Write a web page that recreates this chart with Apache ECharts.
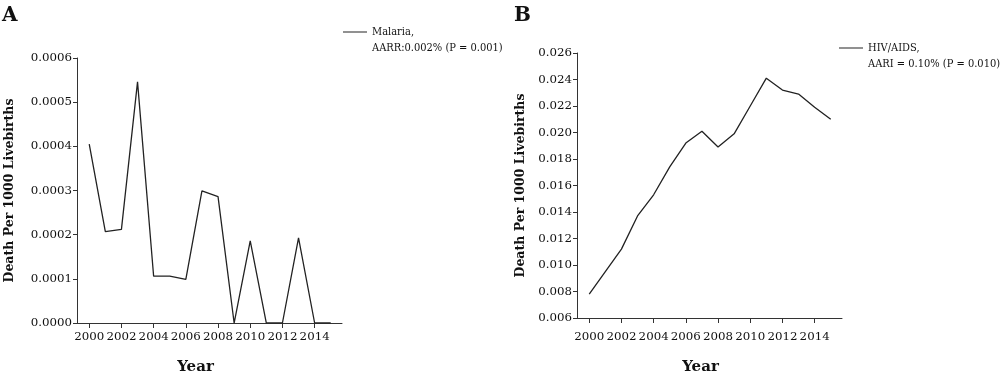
<!DOCTYPE html>
<html>
<head>
<meta charset="utf-8">
<script src="https://cdn.jsdelivr.net/npm/echarts@6/dist/echarts.min.js"></script>
<style>
html,body{margin:0;padding:0;background:#fff;}
#chart{width:1000px;height:376px;}
</style>
</head>
<body>
<div id="chart"></div>
<script>
var years = [2000,2001,2002,2003,2004,2005,2006,2007,2008,2009,2010,2011,2012,2013,2014,2015];
var yearTicks = [2000,2002,2004,2006,2008,2010,2012,2014];
var malaria = [0.000405,0.000207,0.000212,0.000546,0.000106,0.000106,0.000099,0.000299,0.000286,0,0.000186,0,0,0.000193,0,0];
var hiv = [0.0078,0.0095,0.0112,0.0137,0.0153,0.0174,0.0192,0.0201,0.0189,0.0199,0.0220,0.0241,0.0232,0.0229,0.0219,0.0210];

var FONT = 'DejaVu Serif';
var LEG_FONT = '"DejaVu Serif Condensed", "Liberation Serif", serif';
var INK = '#111';

function pairs(vals){
	var out = [];
	for(var i=0;i<years.length;i++){
		out.push([years[i], vals[i]]);
	}
	return out;
}

function xAxisOf(idx, gap, labelMargin, shift){
	return {
		gridIndex: idx,
		type: 'value',
		min: 1999.24,
		max: 2015.7,
		name: 'Year',
		nameLocation: 'middle',
		nameGap: gap,
		nameTextStyle: {fontFamily: FONT, fontWeight: 'bold', fontSize: 15, color: INK, padding: [0, shift, 0, 0]},
		axisLine: {lineStyle: {color: '#333', width: 1}},
		axisTick: {show: true, length: 5, customValues: yearTicks, lineStyle: {color: '#333'}},
		axisLabel: {customValues: yearTicks, margin: labelMargin, fontFamily: FONT, fontSize: 11.8, color: INK,
			formatter: function(v){ return String(v); }},
		splitLine: {show: false}
	};
}

function yAxisOf(idx, min, max, step, digits, gap){
	return {
		gridIndex: idx,
		type: 'value',
		min: min,
		max: max,
		interval: step,
		name: 'Death Per 1000 Livebirths',
		nameLocation: 'middle',
		nameGap: gap,
		nameTextStyle: {fontFamily: FONT, fontWeight: 'bold', fontSize: 12.5, color: INK},
		axisLine: {show: true, lineStyle: {color: '#333', width: 1}},
		axisTick: {show: true, length: 4, lineStyle: {color: '#333'}},
		axisLabel: {margin: 5, fontFamily: FONT, fontSize: 11.8, color: INK,
			formatter: function(v){ return v.toFixed(digits); }},
		splitLine: {show: false}
	};
}

// blank first line keeps the legend line level with the first text line
function legendOf(name, left, top){
	return {
		data: [name],
		left: left, top: top, padding: 0,
		icon: 'rect', itemWidth: 24, itemHeight: 1, itemGap: 0,
		formatter: function(n){ return ' \n' + n; },
		textStyle: {fontFamily: LEG_FONT, fontSize: 11, color: INK, lineHeight: 16}
	};
}

var malariaName = 'Malaria,\nAARR:0.002% (P = 0.001)';
var hivName = 'HIV/AIDS,\nAARI = 0.10% (P = 0.010)';

var chart = echarts.init(document.getElementById('chart'));
chart.setOption({
	animation: false,
	backgroundColor: '#fff',
	title: [
		{text: 'A', left: 2, top: 6, padding: 0, textStyle: {fontFamily: FONT, fontWeight: 'bold', fontSize: 20, color: '#111'}},
		{text: 'B', left: 514, top: 6, padding: 0, textStyle: {fontFamily: FONT, fontWeight: 'bold', fontSize: 20, color: '#111'}}
	],
	legend: [
		legendOf(malariaName, 343, 8),
		legendOf(hivName, 839, 24)
	],
	grid: [
		{left: 77, top: 58, width: 265, height: 265, outerBoundsMode: 'none'},
		{left: 577, top: 53, width: 265, height: 265, outerBoundsMode: 'none'}
	],
	xAxis: [
		xAxisOf(0, 37, 8, 28),
		xAxisOf(1, 42, 13, 18)
	],
	yAxis: [
		yAxisOf(0, 0, 0.0006, 0.0001, 4, 61),
		yAxisOf(1, 0.006, 0.026, 0.002, 3, 50)
	],
	series: [
		{
			name: malariaName,
			type: 'line', xAxisIndex: 0, yAxisIndex: 0,
			data: pairs(malaria),
			showSymbol: false, symbol: 'none',
			lineStyle: {color: '#222', width: 1.3},
			itemStyle: {color: '#222'}
		},
		{
			name: hivName,
			type: 'line', xAxisIndex: 1, yAxisIndex: 1,
			data: pairs(hiv),
			showSymbol: false, symbol: 'none',
			lineStyle: {color: '#222', width: 1.3},
			itemStyle: {color: '#222'}
		}
	]
});
</script>
</body>
</html>
